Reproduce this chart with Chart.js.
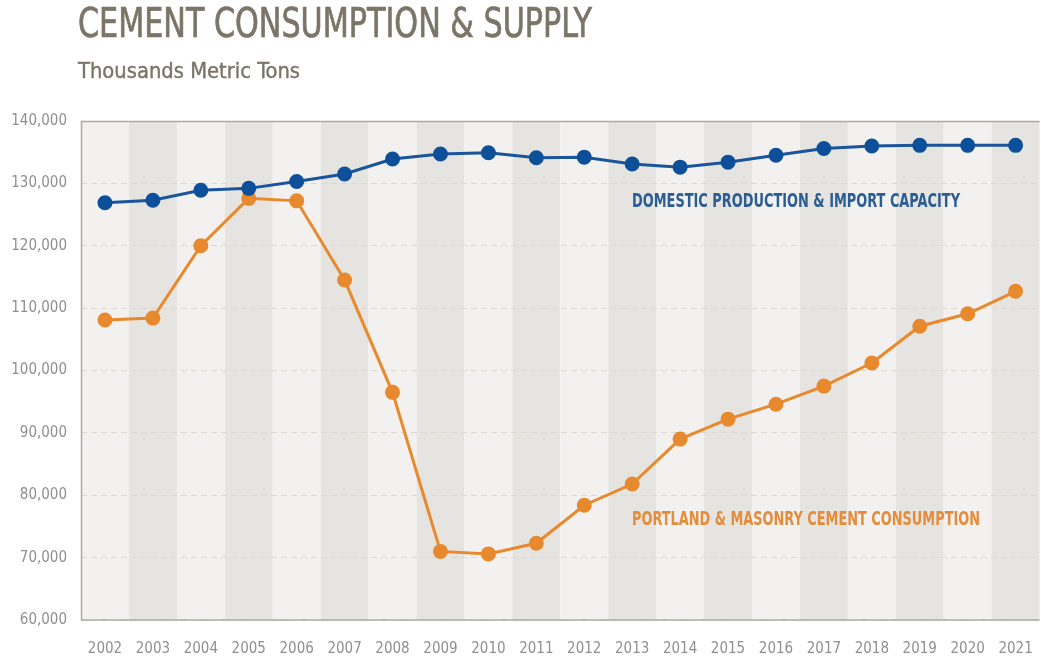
<!DOCTYPE html>
<html>
<head>
<meta charset="utf-8">
<script src="https://cdn.jsdelivr.net/npm/chart.js@4"></script>
<style>
  html, body { margin: 0; padding: 0; background: #fff; }
  #wrap { position: relative; width: 1041px; height: 660px; overflow: hidden; }
  #chart { position: absolute; left: 0; top: 0; }
  .txt { position: absolute; white-space: nowrap; transform-origin: 0 0; font-family: 'DejaVu Sans Condensed', 'Liberation Sans Narrow', sans-serif; line-height: 1; }
  #title { left: 78px; top: 3px; font-size: 41px; color: #7b7568; -webkit-text-stroke: 0.7px #7b7568; }
  #subtitle { left: 78px; top: 60px; font-size: 22px; color: #7b7568; -webkit-text-stroke: 0.4px #7b7568; }
  #lblBlue { left: 632px; top: 190px; font-size: 20px; font-weight: bold; color: #2a5d93; }
  #lblOrange { left: 632px; top: 508px; font-size: 20px; font-weight: bold; color: #e58c3b; }
</style>
</head>
<body>
<div id="wrap">
  <canvas id="chart" width="1053" height="660"></canvas>
  <div class="txt" id="title" data-w="514">CEMENT CONSUMPTION &amp; SUPPLY</div>
  <div class="txt" id="subtitle" data-w="222">Thousands Metric Tons</div>
  <div class="txt" id="lblBlue" data-w="328">DOMESTIC PRODUCTION &amp; IMPORT CAPACITY</div>
  <div class="txt" id="lblOrange" data-w="348">PORTLAND &amp; MASONRY CEMENT CONSUMPTION</div>
</div>
<script>
const years = ["2002", "2003", "2004", "2005", "2006", "2007", "2008", "2009", "2010", "2011",
   "2012", "2013", "2014", "2015", "2016", "2017", "2018", "2019", "2020", "2021"];

// domestic production & import capacity
const capacity = [126900, 127300, 128900, 129200, 130300, 131500, 133900, 134700, 134900, 134100,
   134200, 133100, 132600, 133400, 134500, 135600, 136000, 136100, 136100, 136100];

// portland & masonry cement consumption
const consumption = [108100, 108400, 120000, 127600, 127200, 114500, 96500, 71000, 70600, 72300,
   78400, 81800, 89000, 92200, 94600, 97500, 101200, 107100, 109100, 112700];

const yMin = 60000;
const yMax = 140000;
const yStep = 10000;

// squeeze text blocks to the widths they have in the picture
document.querySelectorAll(".txt").forEach((el) => {
   const target = Number(el.dataset.w);
   const w = el.getBoundingClientRect().width;
   el.style.transform = `scaleX(${target / w})`;
});

// alternating column bands + frame
const bandsPlugin = {
   id: "bands",
   beforeDraw(chart) {
      const { ctx, chartArea, scales } = chart;
      const x = scales.x;
      const half = (chartArea.right - chartArea.left) / years.length / 2;
      ctx.save();
      years.forEach((y, i) => {
         const cx = x.getPixelForValue(i);
         ctx.fillStyle = i % 2 === 0 ? "#f2f1ef" : "#e5e4e1";
         ctx.fillRect(cx - half, chartArea.top, half * 2, chartArea.bottom - chartArea.top);
      });
      ctx.restore();
   },
   afterDatasetsDraw(chart) {
      const { ctx, chartArea } = chart;
      ctx.save();
      ctx.strokeStyle = "#aeaaa3";
      ctx.lineWidth = 1.5;
      ctx.beginPath();
      ctx.moveTo(chartArea.right, chartArea.top + 0.5);
      ctx.lineTo(chartArea.left + 0.5, chartArea.top + 0.5);
      ctx.lineTo(chartArea.left + 0.5, chartArea.bottom);
      ctx.lineTo(chartArea.right, chartArea.bottom);
      ctx.stroke();
      ctx.restore();
   },
};

const font = "'DejaVu Sans Condensed', 'Liberation Sans Narrow', sans-serif";

new Chart(document.getElementById("chart").getContext("2d"), {
   type: "line",
   data: {
      labels: years,
      datasets: [
         {
            label: "Domestic Production & Import Capacity",
            data: capacity,
            borderColor: "#1b5599",
            backgroundColor: "#0d4f99",
            pointBackgroundColor: "#0d4f99",
            pointBorderColor: "#0d4f99",
            borderWidth: 3,
            pointRadius: 6,
            tension: 0,
         },
         {
            label: "Portland & Masonry Cement Consumption",
            data: consumption,
            borderColor: "#e8892e",
            backgroundColor: "#e8892e",
            pointBackgroundColor: "#e8892e",
            pointBorderColor: "#e8892e",
            borderWidth: 3,
            pointRadius: 6,
            tension: 0,
         },
      ],
   },
   options: {
      responsive: false,
      animation: false,
      clip: false,
      layout: { padding: { top: 121, left: 0, right: 0, bottom: 0 } },
      plugins: {
         legend: { display: false },
         title: { display: false },
         tooltip: { enabled: false },
      },
      scales: {
         x: {
            offset: true,
            grid: { display: false, drawTicks: false },
            border: { display: false },
            ticks: {
               color: "#8f8f8f",
               padding: 20,
               maxRotation: 0,
               autoSkip: false,
               font: { family: font, size: 15 },
            },
            afterFit(scale) {
               scale.height = 40;
            },
         },
         y: {
            min: yMin,
            max: yMax,
            grid: {
               color: "#dcd8d0",
               drawTicks: false,
            },
            border: { display: false, dash: [6, 4] },
            ticks: {
               stepSize: yStep,
               color: "#8f8f8f",
               padding: 14,
               font: { family: font, size: 15 },
               callback: (v) => v.toLocaleString("en-US"),
            },
            afterFit(scale) {
               scale.width = 81;
            },
         },
      },
   },
   plugins: [bandsPlugin],
});
</script>
</body>
</html>
